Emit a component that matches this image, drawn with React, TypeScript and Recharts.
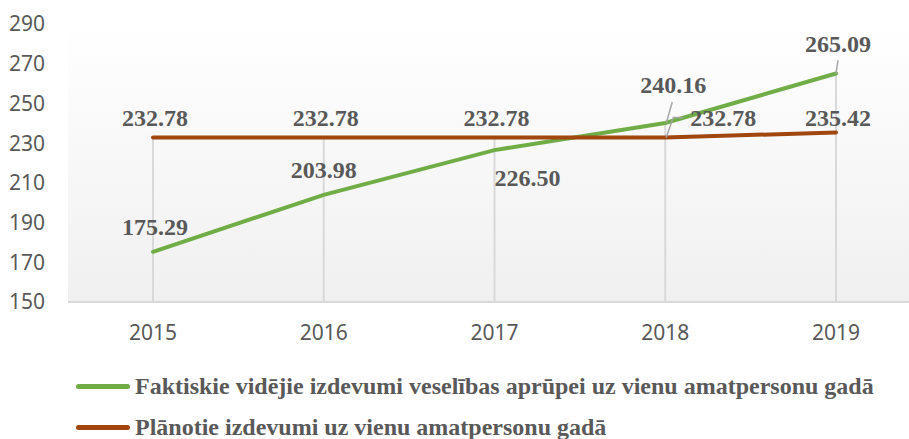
import React from "react";
import {
  LineChart,
  Line,
  XAxis,
  YAxis,
  CartesianGrid,
  ReferenceLine,
  LabelList,
  Legend,
} from "recharts";

const years = ["2015", "2016", "2017", "2018", "2019"];
const actual = [175.29, 203.98, 226.5, 240.16, 265.09];
const planned = [232.78, 232.78, 232.78, 232.78, 235.42];
const yTicks = [150, 170, 190, 210, 230, 250, 270, 290];

const actualName =
  "Faktiskie vidējie izdevumi veselības aprūpei uz vienu amatpersonu gadā";
const plannedName = "Plānotie izdevumi uz vienu amatpersonu gadā";

const data = years.map((year, i) => ({
  year,
  actual: actual[i],
  planned: planned[i],
}));

// label placement (offset from the point, in px) + optional leader lines
const actualLabelPos = [
  { dx: 2, dy: -25 },
  { dx: 0, dy: -25 },
  { dx: 33, dy: 28 },
  { dx: 8, dy: -38, leader: "M 7 -21 L 1 0" },
  { dx: 2, dy: -30, leader: "M 2 -13 L 0 0" },
];
const plannedLabelPos = [
  { dx: 2, dy: -20 },
  { dx: 2, dy: -20 },
  { dx: 2, dy: -20 },
  { dx: 58, dy: -20, leader: "M 18 -20 L 8 -20 L 1 0" },
  { dx: 2, dy: -15 },
];

const GREEN = "#70ad47";
const BROWN = "#a0460e";
const TEXT = "#595959";

const makeLabel = (pos: any[]) => (props: any) => {
  const { x, y, value, index } = props;
  const p = pos[index];
  return (
    <g>
      {p.leader && (
        <path
          d={p.leader}
          transform={`translate(${x},${y})`}
          stroke="#a6a6a6"
          strokeWidth={1.5}
          fill="none"
        />
      )}
      <text
        x={x + p.dx}
        y={y + p.dy}
        dy="0.35em"
        textAnchor="middle"
        fontFamily="'Liberation Serif', 'Times New Roman', serif"
        fontWeight="bold"
        fontSize={24}
        fill={TEXT}
      >
        {Number(value).toFixed(2)}
      </text>
    </g>
  );
};

const renderLegend = (props: any) => {
  const { payload } = props;
  return (
    <div>
      {payload.map((entry: any) => (
        <div
          key={entry.value}
          style={{ display: "flex", alignItems: "center", height: 41 }}
        >
          <div
            style={{
              width: 54,
              height: 5,
              borderRadius: 3,
              background: entry.color,
              marginRight: 5,
            }}
          />
          <span
            style={{
              fontFamily: "'Liberation Serif', 'Times New Roman', serif",
              fontWeight: "bold",
              fontSize: 24,
              color: TEXT,
              whiteSpace: "nowrap",
            }}
          >
            {entry.value}
          </span>
        </div>
      ))}
    </div>
  );
};

export default function App() {
  return (
    <div
      style={{
        position: "absolute",
        left: 0,
        top: 0,
        width: 909,
        height: 439,
        overflow: "hidden",
        background: "#fff",
      }}
    >
      <LineChart
        width={909}
        height={439}
        data={data}
        margin={{ top: 24, right: 0, bottom: 107, left: 0 }}
      >
        <defs>
          <linearGradient id="plotBg" x1="0" y1="0" x2="0" y2="1">
            <stop offset="0%" stopColor="#ffffff" />
            <stop offset="100%" stopColor="#f0f0f0" />
          </linearGradient>
        </defs>
        <CartesianGrid
          horizontal={false}
          vertical={false}
          fill="url(#plotBg)"
          fillOpacity={1}
        />
        <XAxis
          dataKey="year"
          height={30}
          padding={{ left: 85, right: 73 }}
          tickLine={false}
          tickSize={0}
          tickMargin={23}
          axisLine={{ stroke: "#d9d9d9", strokeWidth: 2 }}
          tick={{ fill: TEXT, fontSize: 21, fontFamily: "'Noto Sans', sans-serif" }}
        />
        <YAxis
          width={68}
          domain={[150, 290]}
          ticks={yTicks}
          axisLine={false}
          tickLine={false}
          tickSize={0}
          tickMargin={23}
          tick={{ fill: TEXT, fontSize: 21, fontFamily: "'Noto Sans', sans-serif" }}
        />
        {data.map((d) => (
          <ReferenceLine
            key={d.year}
            segment={[
              { x: d.year, y: Math.max(d.actual, d.planned) },
              { x: d.year, y: 150 },
            ]}
            stroke="#d9d9d9"
            strokeWidth={2}
          />
        ))}
        <Legend
          layout="horizontal"
          verticalAlign="middle"
          align="center"
          content={renderLegend}
          wrapperStyle={{ left: 76, top: 366, width: 830 }}
        />
        <Line
          type="linear"
          dataKey="actual"
          name={actualName}
          stroke={GREEN}
          strokeWidth={4}
          strokeLinecap="round"
          dot={false}
          activeDot={false}
          isAnimationActive={false}
        >
          <LabelList dataKey="actual" content={makeLabel(actualLabelPos)} />
        </Line>
        <Line
          type="linear"
          dataKey="planned"
          name={plannedName}
          stroke={BROWN}
          strokeWidth={4}
          strokeLinecap="round"
          dot={false}
          activeDot={false}
          isAnimationActive={false}
        >
          <LabelList dataKey="planned" content={makeLabel(plannedLabelPos)} />
        </Line>
      </LineChart>
    </div>
  );
}
